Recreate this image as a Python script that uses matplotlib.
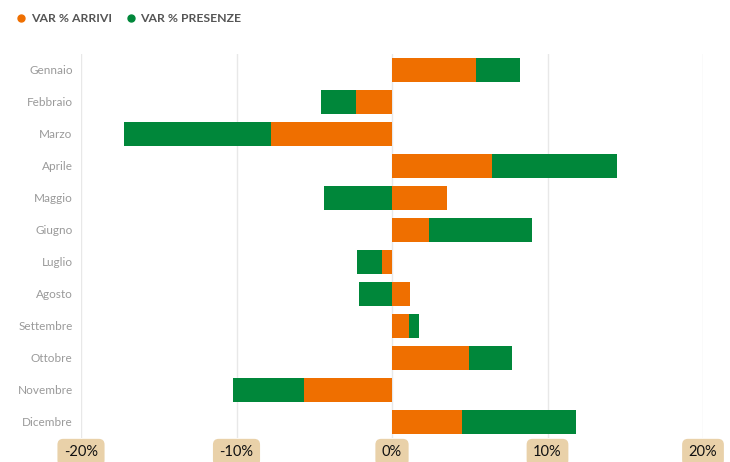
import numpy as np
import matplotlib.pyplot as plt
from matplotlib.lines import Line2D

mesi = ["Gennaio", "Febbraio", "Marzo", "Aprile", "Maggio", "Giugno",
        "Luglio", "Agosto", "Settembre", "Ottobre", "Novembre", "Dicembre"]
var_arrivi = [5.4, -2.3, -7.8, 6.45, 3.55, 2.4, -0.65, 1.15, 1.1, 4.95, -5.65, 4.5]
var_presenze = [2.8, -2.25, -9.45, 8.0, -4.35, 6.6, -1.6, -2.1, 0.65, 2.75, -4.55, 7.35]
x_ticks = [-20, -10, 0, 10, 20]
x_labels = ["-20%", "-10%", "0%", "10%", "20%"]

ARANCIO = "#EF6F00"
VERDE = "#00873A"

plt.rcParams['font.family'] = ['Lato', 'DejaVu Sans']

fig = plt.figure(figsize=(7.3, 4.62), dpi=100)
ax = fig.add_axes([81 / 730, 24 / 462, 622 / 730, 384 / 462])

y = np.arange(len(mesi))

# stack positivi e negativi separatamente, partendo da zero
pos_base = np.zeros(len(mesi))
neg_base = np.zeros(len(mesi))
for valori, colore in [(var_arrivi, ARANCIO), (var_presenze, VERDE)]:
    valori = np.array(valori)
    left = np.where(valori >= 0, pos_base, neg_base)
    ax.barh(y, valori, left=left, height=0.75, color=colore, zorder=3)
    pos_base += np.where(valori >= 0, valori, 0)
    neg_base += np.where(valori < 0, valori, 0)

ax.set_xlim(-20, 20)
ax.set_ylim(len(mesi) - 0.5, -0.5)
ax.set_yticks(y)
ax.set_yticklabels(mesi, fontsize=8.5, color="#9a9a9a")
ax.tick_params(axis="y", length=0, pad=6)

ax.set_xticks(x_ticks)
ax.set_xticklabels([])
ax.tick_params(axis="x", length=0)
ax.grid(axis="x", color="#e8e8e8", linewidth=1, zorder=0)
for s in ax.spines.values():
    s.set_visible(False)

# etichette asse x in box color sabbia
for xv, lab in zip(x_ticks, x_labels):
    ax.text(xv, len(mesi) - 0.5 + 0.45, lab, ha="center", va="center",
            fontsize=10.5, color="#111111", clip_on=False,
            bbox=dict(boxstyle="round,pad=0.45,rounding_size=0.4",
                      facecolor="#E9D1A9", edgecolor="none"))

handles = [Line2D([], [], marker="o", linestyle="none", markersize=5,
                  color=ARANCIO),
           Line2D([], [], marker="o", linestyle="none", markersize=5,
                  color=VERDE)]
leg = fig.legend(handles, ["VAR % ARRIVI", "VAR % PRESENZE"],
                 loc="upper left", bbox_to_anchor=(0.006, 0.995), ncol=2,
                 frameon=False, fontsize=8.8, handletextpad=0.3,
                 columnspacing=1.0, handlelength=1.0)
for t in leg.get_texts():
    t.set_color("#555555")
    t.set_fontweight("bold")

fig.savefig("out.png", dpi=100)
